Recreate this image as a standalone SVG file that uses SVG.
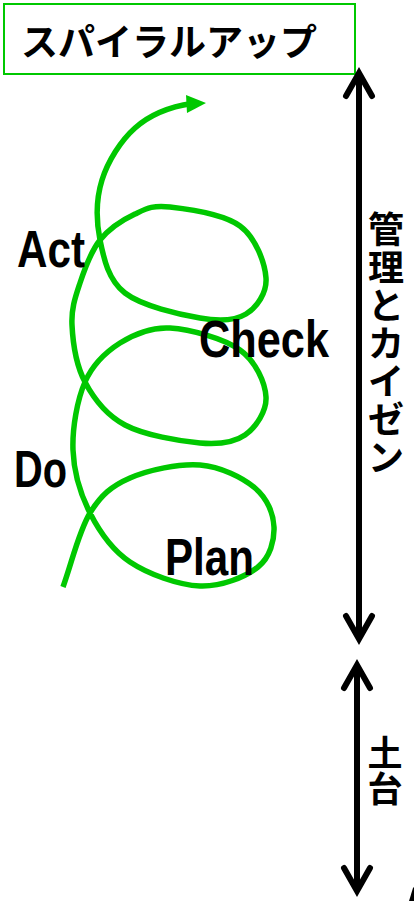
<svg xmlns="http://www.w3.org/2000/svg" width="414" height="901" viewBox="0 0 414 901">
<style>
.lbl{font-family:"Liberation Sans",Arial,sans-serif;font-weight:bold;font-size:52px;fill:#000}
.jp{font-family:"Noto Sans CJK JP","Noto Sans",sans-serif;fill:#000}
.sp{fill:none;stroke:#00c800;stroke-width:5.5;stroke-linecap:butt;stroke-linejoin:round}
.ax{fill:none;stroke:#000;stroke-width:6}
.hd{fill:none;stroke:#000;stroke-width:6;stroke-linecap:round;stroke-linejoin:miter;stroke-miterlimit:10}
</style>
<rect width="414" height="901" fill="#fff"/>
<g id="title">
<rect x="4" y="4" width="351" height="70" fill="#fff" stroke="#00c800" stroke-width="2"/>
<text class="jp" x="21" y="56" font-size="37" font-weight="bold">スパイラルアップ</text>
</g>
<g id="connectors">
<path class="sp" d="M63,587 C72,562 78.8,531.2 90,513 C101.2,494.8 111.7,486 130,478 C148.3,470 179.2,463.3 200,465 C220.8,466.7 242.7,477.7 255,488 C267.3,498.3 273.5,513.8 274,527 C274.5,540.2 270.3,557.2 258,567 C245.7,576.8 221.3,586.8 200,586 C178.7,585.2 148.3,574.2 130,562 C111.7,549.8 99.5,531.7 90,513 C80.5,494.3 73.8,471.8 73,450 C72.2,428.2 77.2,399.8 85,382 C92.8,364.2 105.8,352 120,343 C134.2,334 150,326.8 170,328 C190,329.2 224,338.5 240,350 C256,361.5 265.2,382.8 266,397 C266.8,411.2 256,427.3 245,435 C234,442.7 220,444.7 200,443 C180,441.3 144.2,435.2 125,425 C105.8,414.8 93.8,398.7 85,382 C76.2,365.3 72.8,341.5 72,325 C71.2,308.5 75.3,297.2 80,283 C84.7,268.8 90.8,251.5 100,240 C109.2,228.5 123.3,219.5 135,214 C146.7,208.5 152.5,205 170,207 C187.5,209 224,214.2 240,226 C256,237.8 265,263.3 266,278 C267,292.7 257,307.3 246,314 C235,320.7 220.2,321.5 200,318 C179.8,314.5 141.7,306 125,293 C108.3,280 103.8,258.8 100,240 C96.2,221.2 96.2,198.7 102,180 C107.8,161.3 120.7,140.7 135,128 C149.3,115.3 168,107 192,103.5"/>
<polygon points="186,95 206,103 187,113" fill="#00c800"/>
</g>
<g id="label-act"><text class="lbl" x="17" y="267" textLength="68" lengthAdjust="spacingAndGlyphs">Act</text></g>
<g id="label-check"><text class="lbl" x="199" y="357" textLength="130" lengthAdjust="spacingAndGlyphs">Check</text></g>
<g id="label-do"><text class="lbl" x="14" y="487" textLength="53" lengthAdjust="spacingAndGlyphs">Do</text></g>
<g id="label-plan"><text class="lbl" x="165" y="575" textLength="89" lengthAdjust="spacingAndGlyphs">Plan</text></g>
<g id="arrow-kanri">
<line class="ax" x1="359" y1="74" x2="359" y2="638"/>
<polyline class="hd" points="346,96 359,73 372,96"/>
<polyline class="hd" points="346,616 359,639 372,616"/>
<text class="jp" font-size="36" font-weight="bold" text-anchor="middle"><tspan x="386" y="243">管</tspan><tspan x="386" y="281">理</tspan><tspan x="386" y="319">と</tspan><tspan x="386" y="357">カ</tspan><tspan x="386" y="395">イ</tspan><tspan x="386" y="433">ゼ</tspan><tspan x="386" y="471">ン</tspan></text>
</g>
<g id="arrow-dodai">
<line class="ax" x1="357" y1="665" x2="357" y2="891"/>
<polyline class="hd" points="344,688 357,665 370,688"/>
<polyline class="hd" points="344,868 357,891 370,868"/>
<text class="jp" font-size="35" font-weight="bold" text-anchor="middle"><tspan x="385" y="766">土</tspan><tspan x="385" y="802">台</tspan></text>
</g>
<g id="corner-mark"><polygon points="409,901 413,888 414,887 414,901" fill="#000"/></g>
</svg>
